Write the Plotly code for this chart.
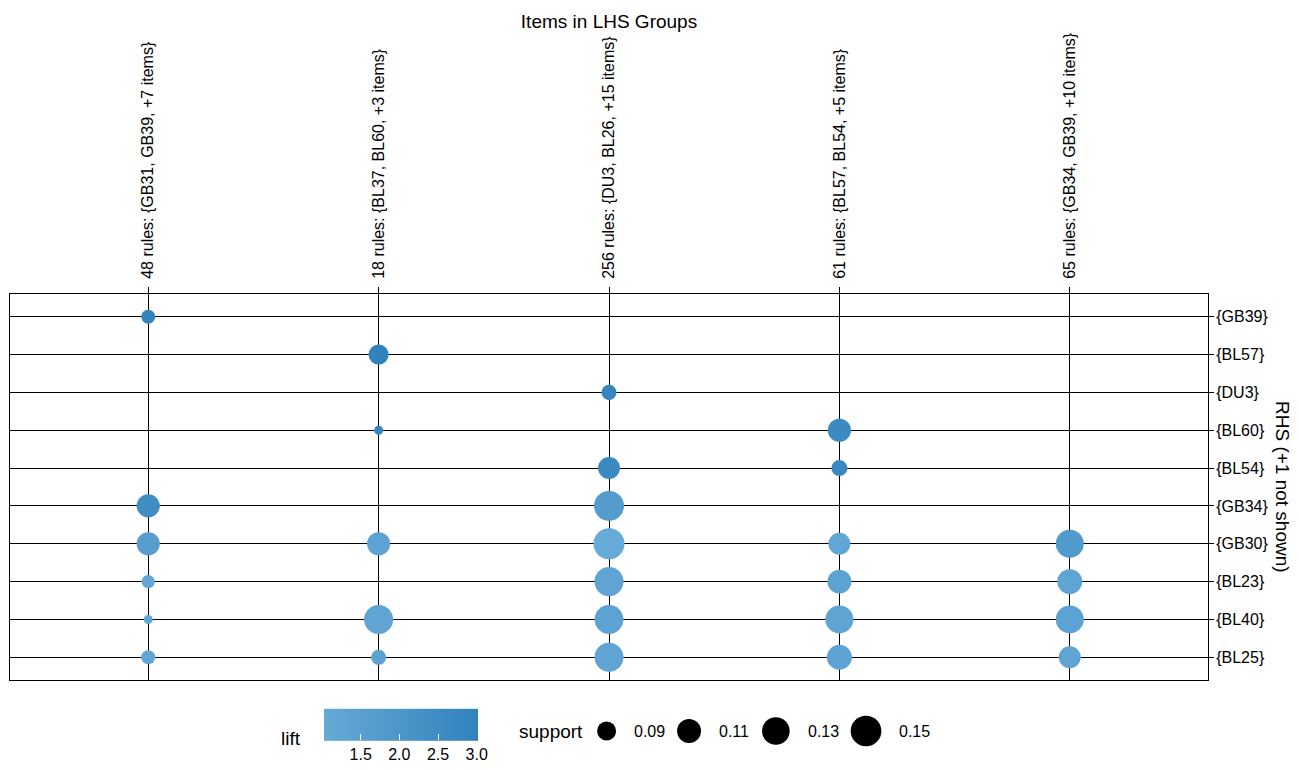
import numpy as np
import plotly.graph_objects as go

# ---------------- data ----------------
lhs_groups = [
    "48 rules: {GB31, GB39, +7 items}",
    "18 rules: {BL37, BL60, +3 items}",
    "256 rules: {DU3, BL26, +15 items}",
    "61 rules: {BL57, BL54, +5 items}",
    "65 rules: {GB34, GB39, +10 items}",
]
rhs_items = ["{GB39}", "{BL57}", "{DU3}", "{BL60}", "{BL54}",
             "{GB34}", "{GB30}", "{BL23}", "{BL40}", "{BL25}"]

point_lhs = [0, 0, 0, 0, 0, 0,
             1, 1, 1, 1, 1,
             2, 2, 2, 2, 2, 2, 2,
             3, 3, 3, 3, 3, 3,
             4, 4, 4, 4]
point_rhs = ["{GB39}", "{GB34}", "{GB30}", "{BL23}", "{BL40}", "{BL25}",
             "{BL57}", "{BL60}", "{GB30}", "{BL40}", "{BL25}",
             "{DU3}", "{BL54}", "{GB34}", "{GB30}", "{BL23}", "{BL40}", "{BL25}",
             "{BL60}", "{BL54}", "{GB30}", "{BL23}", "{BL40}", "{BL25}",
             "{GB30}", "{BL23}", "{BL40}", "{BL25}"]
support = [0.078, 0.106, 0.106, 0.077, 0.074, 0.078,
           0.094, 0.074, 0.106, 0.139, 0.080,
           0.080, 0.101, 0.145, 0.152, 0.139, 0.137, 0.138,
           0.106, 0.082, 0.101, 0.110, 0.132, 0.115,
           0.132, 0.115, 0.132, 0.101]
lift = [2.90, 2.40, 1.60, 1.20, 1.15, 1.20,
        3.01, 2.80, 1.40, 1.30, 1.40,
        2.85, 2.60, 1.70, 1.02, 1.30, 1.40, 1.30,
        2.60, 2.70, 1.20, 1.40, 1.30, 1.35,
        1.80, 1.30, 1.40, 1.30]

legend_support = [0.09, 0.11, 0.13, 0.15]
lift_ticks = [1.5, 2.0, 2.5, 3.0]

# ---------------- scales ----------------
S_MIN, S_MAX = min(support), max(support)
D_MIN, D_MAX = 9.0, 31.0


def size_scale(v):
    v = np.clip(np.asarray(v, dtype=float), S_MIN, S_MAX)
    return D_MIN + (D_MAX - D_MIN) * np.sqrt((v - S_MIN) / (S_MAX - S_MIN))


# page body has an 8px margin: work in screen coords and subtract it
OFF = 8
W, H = 1299 - OFF, 770 - OFF


def sx(px):  # screen x -> figure x
    return px - OFF


def sy(py):  # screen y -> figure y (from top)
    return py - OFF


PLOT_L, PLOT_R, PLOT_T, PLOT_B = 10, 1208, 294, 680
ML, MR, MT, MB = sx(PLOT_L), W - sx(PLOT_R), sy(PLOT_T), 0
PW, PH = W - ML - MR, H - MT - MB
main_dom_bottom = (H - sy(PLOT_B)) / PH
leg_center = sy(731)
leg_dom_top = 2 * (H - leg_center) / PH
leg_h_px = leg_dom_top * PH

FONT = "Liberation Sans, Arial, sans-serif"

fig = go.Figure()

# colorbar placement (empirical offsets of plotly's horizontal colorbar)
CB_L, CB_B = 323, 741
cb_x = (sx(CB_L) + 25) / W
cb_y = max(0.0, (H - (sy(CB_B) + 29)) / H)

fig.add_trace(go.Scatter(
    x=[lhs_groups[i] for i in point_lhs],
    y=point_rhs,
    mode="markers",
    showlegend=False,
    marker=dict(
        size=size_scale(support),
        sizemode="diameter",
        color=lift,
        colorscale=[[0, "#66AAD7"], [1, "#3182BD"]],
        cmin=min(lift), cmax=max(lift),
        opacity=1,
        line=dict(width=0),
        colorbar=dict(
            orientation="h",
            xref="container", x=cb_x, xanchor="left",
            yref="container", y=cb_y, yanchor="bottom",
            len=154, lenmode="pixels",
            thickness=32, thicknessmode="pixels",
            xpad=0, ypad=0, outlinewidth=0,
            tickvals=lift_ticks,
            ticktext=[f"{t:.1f}" for t in lift_ticks],
            ticks="inside", ticklen=6, tickcolor="white", tickwidth=1,
            tickfont=dict(size=16, color="black", family=FONT),
        ),
    ),
))

# size legend (drawn in its own hidden axis, screen-pixel x range)
leg_d = size_scale(legend_support)
leg_x = []
for i, d in enumerate(leg_d):
    if i == 0:
        leg_x.append(606.6)
    else:
        leg_x.append(leg_x[-1] + leg_d[i - 1] / 2 + 16 + 31 + 14 + d / 2)

fig.add_trace(go.Scatter(
    x=leg_x, y=[0.5] * len(leg_x), xaxis="x2", yaxis="y2",
    mode="markers", showlegend=False, hoverinfo="skip",
    marker=dict(size=leg_d, color="#000000", opacity=1, line=dict(width=0)),
))

annotations = []
for xv, d, s in zip(leg_x, leg_d, legend_support):
    annotations.append(dict(
        x=xv + d / 2 + 16, y=0.5, xref="x2", yref="y2", text=f"{s:.2f}",
        showarrow=False, xanchor="left", yanchor="middle",
        font=dict(size=16, color="black", family=FONT)))
annotations.append(dict(
    x=517, y=0.5, xref="x2", yref="y2", text="support", showarrow=False,
    xanchor="left", yanchor="middle", font=dict(size=19, color="black", family=FONT)))
annotations.append(dict(
    x=279, y=(H - sy(738)) / leg_h_px, xref="x2", yref="y2", text="lift",
    showarrow=False, xanchor="left", yanchor="middle",
    font=dict(size=19, color="black", family=FONT)))
annotations.append(dict(
    x=(sx(1283) - ML) / PW, y=(main_dom_bottom + 1) / 2, xref="paper", yref="paper",
    text="RHS (+1 not shown)", textangle=90, showarrow=False,
    xanchor="center", yanchor="middle", font=dict(size=19, color="black", family=FONT)))

fig.update_layout(
    width=W, height=H,
    margin=dict(l=ML, r=MR, t=MT, b=MB, pad=0, autoexpand=False),
    paper_bgcolor="white", plot_bgcolor="white",
    font=dict(family=FONT, color="black"),
    title=dict(text="Items in LHS Groups", x=sx(609) / W, xref="container",
               xanchor="center", y=1 - sy(21) / H, yref="container", yanchor="middle",
               font=dict(size=19, color="black", family=FONT)),
    xaxis=dict(
        type="category", categoryorder="array", categoryarray=lhs_groups,
        range=[-0.6, len(lhs_groups) - 0.4], side="top", tickangle=-90,
        ticks="outside", ticklen=6, tickcolor="black", tickwidth=1,
        ticklabelstandoff=5,
        showgrid=True, gridcolor="black", gridwidth=1,
        showline=True, linecolor="black", linewidth=1, mirror=True,
        tickfont=dict(size=16, color="black", family=FONT),
        domain=[0, 1], anchor="y", zeroline=False, fixedrange=True,
        automargin=False,
    ),
    yaxis=dict(
        type="category", categoryorder="array", categoryarray=rhs_items,
        range=[len(rhs_items) - 0.4, -0.6], side="right",
        ticks="outside", ticklen=5, tickcolor="black", tickwidth=1,
        ticklabelstandoff=-1,
        showgrid=True, gridcolor="black", gridwidth=1,
        showline=True, linecolor="black", linewidth=1, mirror=True,
        tickfont=dict(size=16, color="black", family=FONT),
        domain=[main_dom_bottom, 1], anchor="x", zeroline=False, fixedrange=True,
        automargin=False,
    ),
    xaxis2=dict(domain=[0, 1], range=[PLOT_L, PLOT_R], visible=False, anchor="y2",
                fixedrange=True),
    yaxis2=dict(domain=[0, leg_dom_top], range=[0, 1], visible=False, anchor="x2",
                fixedrange=True),
    annotations=annotations,
)

fig.write_html("out.html")
